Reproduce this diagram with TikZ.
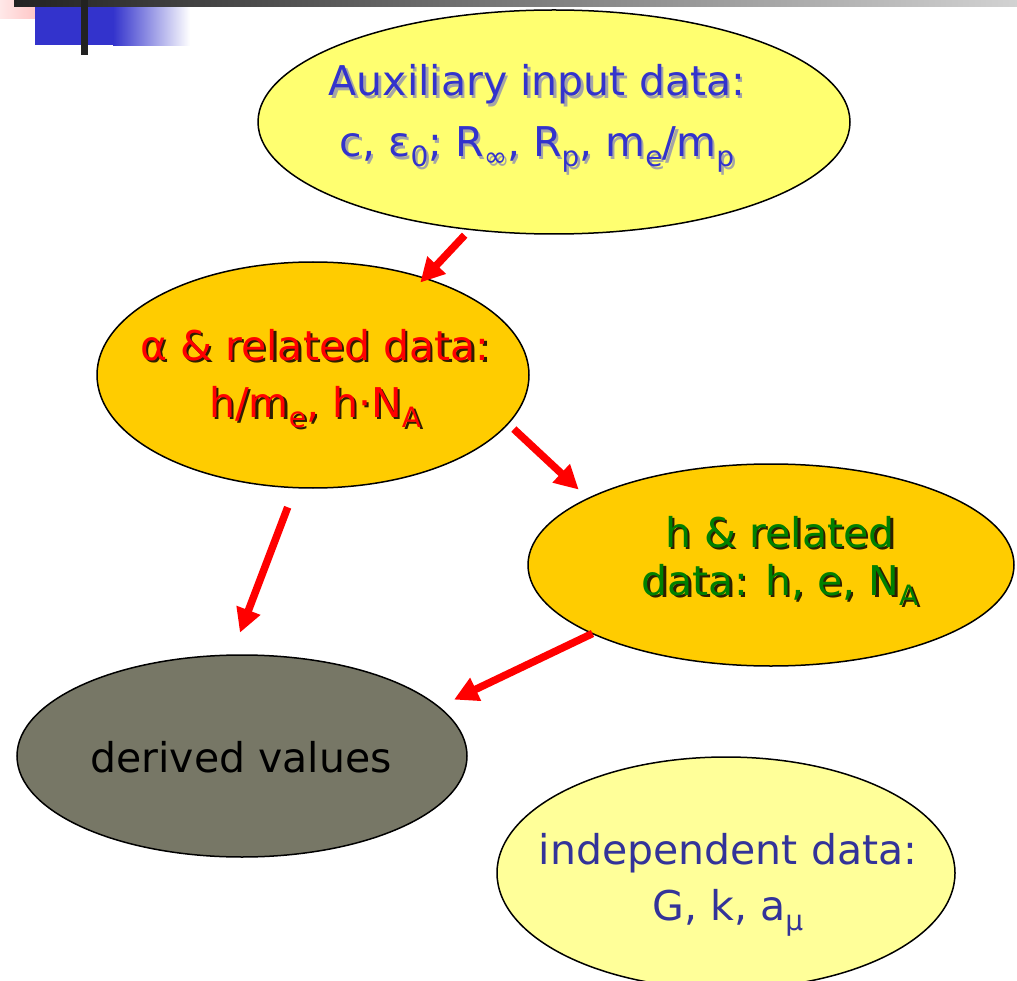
\documentclass[tikz,border=0pt]{standalone}
\usepackage{fontspec}
\setmainfont{DejaVu Sans}
\usetikzlibrary{shapes.geometric,arrows.meta}

\definecolor{auxfill}{RGB}{255,255,112}
\definecolor{relfill}{RGB}{255,204,0}
\definecolor{derfill}{RGB}{119,119,102}
\definecolor{indfill}{RGB}{255,255,153}
\definecolor{auxtext}{RGB}{51,51,204}
\definecolor{auxshadow}{RGB}{165,165,165}
\definecolor{alphatext}{RGB}{255,0,0}
\definecolor{darkshadow}{RGB}{45,30,0}
\definecolor{htext}{RGB}{0,128,0}
\definecolor{indtext}{RGB}{51,51,153}
\definecolor{arrowred}{RGB}{255,0,0}
\definecolor{barblue}{RGB}{51,51,204}
\definecolor{barpink}{RGB}{255,170,170}
\definecolor{palepink}{RGB}{255,232,232}
\definecolor{bardark}{RGB}{34,34,34}
\definecolor{barmid}{RGB}{122,122,122}
\definecolor{barlight}{RGB}{210,210,210}

% lowered, smaller index letters
\newcommand\sbs[1]{\raisebox{-10pt}{\fontsize{28}{28}\selectfont #1}}
% text with a soft drop shadow down and to the right
\newcommand\shtext[2]{\leavevmode\rlap{\kern2.5pt\raisebox{-2.5pt}{\textcolor{#1}{#2}}}#2}

\begin{document}
\begin{tikzpicture}[x=1pt,y=-1pt,
  blob/.style={ellipse, draw=black, line width=1.5pt, inner sep=0pt, outer sep=0pt},
  txt/.style={anchor=base, align=center, inner sep=0pt},
  flow/.style={draw=arrowred, line width=7.5pt, -{Triangle[length=24pt,width=24pt]}},
]
\useasboundingbox (0,0) rectangle (1017,981);
\clip (0,0) rectangle (1017,981);

% corner ornament and header rule
\shade[left color=palepink, right color=barpink] (0,0) rectangle (66,19);
\fill[barblue] (35,7) rectangle (113,45);
\shade[left color=barblue, right color=white] (113,7) rectangle (190,46);
\shade[left color=bardark, middle color=barmid, right color=barlight] (14,0) rectangle (1017,6.5);
\fill[bardark] (81,0) rectangle (88,55);

% data groups
\node[blob, fill=auxfill, minimum width=592pt, minimum height=224pt] (aux) at (554,122) {};
\node[blob, fill=relfill, minimum width=432pt, minimum height=226pt] (alpha) at (313,375) {};
\node[blob, fill=relfill, minimum width=486pt, minimum height=202pt] (hrel) at (771,565) {};
\node[blob, fill=derfill, minimum width=450pt, minimum height=202pt] (derived) at (242,756) {};
\node[blob, fill=indfill, minimum width=458pt, minimum height=232pt] (indep) at (726,873) {};

% flow of data between the groups
\draw[flow, shorten <=8pt, shorten >=-6pt] (aux.232.2) -- (alpha.41.7);
\draw[flow, shorten <=8pt, shorten >=13pt] (alpha.346.5) -- (hrel.160.4);
\draw[flow, shorten <=21pt, shorten >=24pt] (alpha.261.7) -- (derived.96);
\draw[flow, shorten >=17pt] (hrel.201.3) -- (derived.14.7);

% labels (each placed by the baseline of its last line)
\node[txt, text=auxtext, font=\fontsize{41}{61}\selectfont] (auxt) at (537,157)
  {\shtext{auxshadow}{Auxiliary input data:}\\
   \shtext{auxshadow}{c, ε\sbs{0}; R\sbs{∞}, R\sbs{p}, m\sbs{e}/m\sbs{p}}};
\node[txt, text=alphatext, font=\fontsize{41}{57}\selectfont] (alphat) at (315,417)
  {\shtext{darkshadow}{α \& related data:}\\
   \shtext{darkshadow}{h/m\sbs{e}, h·N\sbs{A}}};
\node[txt, text=htext, font=\fontsize{41}{48}\selectfont] (hrelt) at (780,595)
  {\shtext{darkshadow}{h \& related}\\
   \shtext{darkshadow}{data: h, e, N\sbs{A}}};
\node[txt, text=black, font=\fontsize{41}{57}\selectfont] (derivedt) at (241,772)
  {derived values};
\node[txt, text=indtext, font=\fontsize{41}{56}\selectfont] (indept) at (728,920)
  {independent data:\\ G, k, a\sbs{μ}};
\end{tikzpicture}
\end{document}
